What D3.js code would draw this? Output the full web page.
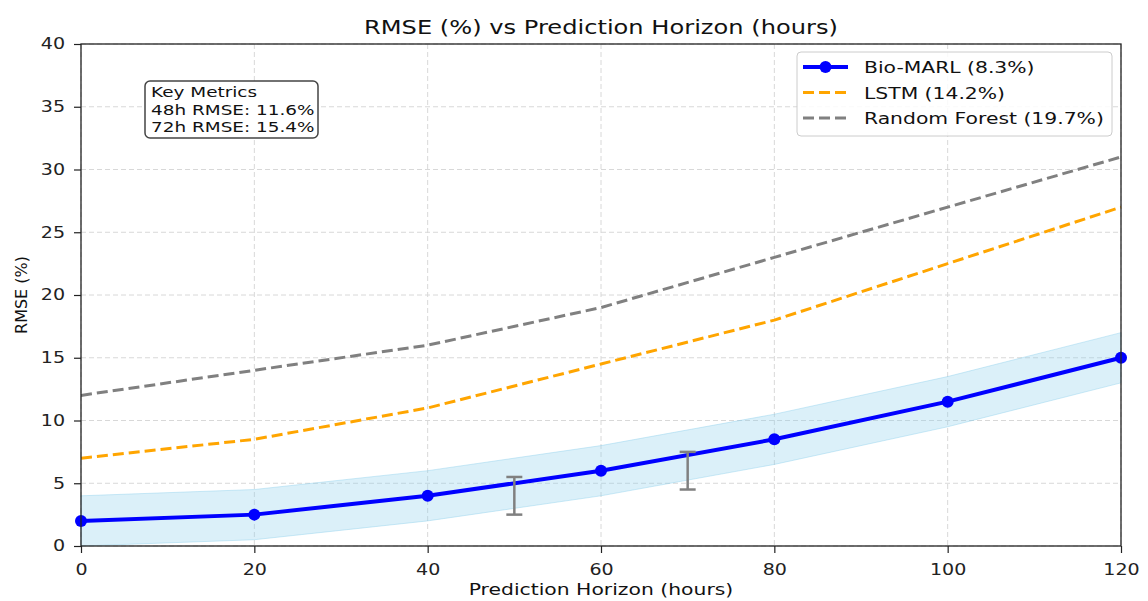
<!DOCTYPE html>
<html>
<head>
<meta charset="utf-8">
<script src="https://cdn.jsdelivr.net/npm/d3@7"></script>
<style>
  body { margin: 0; background: #fff; }
  svg { font-family: "DejaVu Sans", sans-serif; display: block; }
</style>
</head>
<body>
<svg id="chart" width="1148" height="601"></svg>
<script>
// data
const horizons = [0, 20, 40, 60, 80, 100, 120];
const bioMarl = [2, 2.5, 4, 6, 8.5, 11.5, 15];
const bioLower = [0, 0.5, 2, 4, 6.5, 9.5, 13];
const bioUpper = [4, 4.5, 6, 8, 10.5, 13.5, 17];
const lstm = [7, 8.5, 11, 14.5, 18, 22.5, 27];
const randomForest = [12, 14, 16, 19, 23, 27, 31];
const errX = [50, 70];
const errLow = [2.5, 4.5];
const errHigh = [5.5, 7.5];
const xTicks = [0, 20, 40, 60, 80, 100, 120];
const yTicks = [0, 5, 10, 15, 20, 25, 30, 35, 40];
const legendLabels = ['Bio-MARL (8.3%)', 'LSTM (14.2%)', 'Random Forest (19.7%)'];
const metricLines = ['Key Metrics', '48h RMSE: 11.6%', '72h RMSE: 15.4%'];

const margin = { top: 44, right: 27, bottom: 55, left: 81 };
const width = 1148, height = 601;
const innerWidth = width - margin.left - margin.right;
const innerHeight = height - margin.top - margin.bottom;
const sx = 1.27; // the picture's text is wider than it is tall

const svg = d3.select('#chart');
const g = svg.append('g').attr('transform', `translate(${margin.left},${margin.top})`);

// widen glyphs horizontally, keeping the text as text
function widen(sel) {
    sel.each(function() {
        const len = this.getComputedTextLength();
        d3.select(this).attr('textLength', len * sx).attr('lengthAdjust', 'spacingAndGlyphs');
    });
    return sel;
}
function addText(parent, x, y, txt, size, anchor) {
    return widen(parent.append('text')
        .attr('x', x).attr('y', y)
        .attr('text-anchor', anchor || 'start')
        .attr('font-size', size).attr('fill', '#111')
        .text(txt));
}

const xScale = d3.scaleLinear().domain([0, 120]).range([0, innerWidth]);
const yScale = d3.scaleLinear().domain([0, 40]).range([innerHeight, 0]);

// grid
g.append('g').selectAll('line').data(xTicks).join('line')
    .attr('x1', d => xScale(d)).attr('x2', d => xScale(d))
    .attr('y1', 0).attr('y2', innerHeight)
    .attr('stroke', '#d8d8d8').attr('stroke-width', 1).attr('stroke-dasharray', '5,3');
g.append('g').selectAll('line').data(yTicks).join('line')
    .attr('x1', 0).attr('x2', innerWidth)
    .attr('y1', d => yScale(d)).attr('y2', d => yScale(d))
    .attr('stroke', '#d8d8d8').attr('stroke-width', 1).attr('stroke-dasharray', '5,3');

// band
const band = d3.area()
    .x((d, i) => xScale(horizons[i]))
    .y0((d, i) => yScale(bioLower[i]))
    .y1((d, i) => yScale(bioUpper[i]));
g.append('path')
    .attr('d', band(horizons))
    .attr('fill', 'skyblue').attr('fill-opacity', 0.3)
    .attr('stroke', 'skyblue').attr('stroke-opacity', 0.4);

const line = d3.line()
    .x((d, i) => xScale(horizons[i]))
    .y(d => yScale(d));

g.append('path').attr('d', line(randomForest))
    .attr('fill', 'none').attr('stroke', 'gray').attr('stroke-width', 3)
    .attr('stroke-dasharray', '11,5');
g.append('path').attr('d', line(lstm))
    .attr('fill', 'none').attr('stroke', 'orange').attr('stroke-width', 3)
    .attr('stroke-dasharray', '11,5');
g.append('path').attr('d', line(bioMarl))
    .attr('fill', 'none').attr('stroke', 'blue').attr('stroke-width', 4);
g.append('g').selectAll('circle').data(bioMarl).join('circle')
    .attr('cx', (d, i) => xScale(horizons[i]))
    .attr('cy', d => yScale(d))
    .attr('r', 6).attr('fill', 'blue');

// error bars
errX.forEach((x, i) => {
    const eg = g.append('g').attr('stroke', 'gray').attr('stroke-width', 2.5);
    eg.append('line').attr('x1', xScale(x)).attr('x2', xScale(x))
        .attr('y1', yScale(errLow[i])).attr('y2', yScale(errHigh[i]));
    [errLow[i], errHigh[i]].forEach(v => {
        eg.append('line').attr('x1', xScale(x) - 8).attr('x2', xScale(x) + 8)
            .attr('y1', yScale(v)).attr('y2', yScale(v));
    });
});

// axes
const xAxis = g.append('g').attr('transform', `translate(0,${innerHeight})`)
    .call(d3.axisBottom(xScale).tickValues(xTicks).tickSize(7).tickPadding(11));
const yAxis = g.append('g')
    .call(d3.axisLeft(yScale).tickValues(yTicks).tickSize(7).tickPadding(9));
[xAxis, yAxis].forEach(a => {
    a.selectAll('.domain').remove();
    a.selectAll('line').attr('stroke', '#222').attr('stroke-width', 1.2);
    a.selectAll('text').attr('font-size', 15).attr('fill', '#222')
        .attr('font-family', '"DejaVu Sans", sans-serif');
    widen(a.selectAll('text'));
});
g.append('rect').attr('width', innerWidth).attr('height', innerHeight)
    .attr('fill', 'none').attr('stroke', '#222').attr('stroke-width', 1.3);

// labels
addText(svg, margin.left + innerWidth / 2, 34, 'RMSE (%) vs Prediction Horizon (hours)', 19, 'middle');
addText(svg, margin.left + innerWidth / 2, 595, 'Prediction Horizon (hours)', 16, 'middle');
svg.append('text')
    .attr('transform', `translate(27,${margin.top + innerHeight / 2}) rotate(-90)`)
    .attr('text-anchor', 'middle').attr('font-size', 16).attr('fill', '#111')
    .text('RMSE (%)');

// key metrics box
const km = svg.append('g').attr('transform', 'translate(145,81)');
km.append('rect').attr('width', 173).attr('height', 57).attr('rx', 5)
    .attr('fill', '#fff').attr('stroke', '#444').attr('stroke-width', 1.5);
metricLines.forEach((t, i) => addText(km, 6, 16 + i * 17.5, t, 14.5));

// legend
const lg = svg.append('g').attr('transform', 'translate(797,52)');
lg.append('rect').attr('width', 315).attr('height', 84).attr('rx', 4)
    .attr('fill', '#fff').attr('fill-opacity', 0.85).attr('stroke', '#ccc');
const legendStyles = [
    { color: 'blue', width: 4, dash: null, marker: true },
    { color: 'orange', width: 3, dash: '11,5', marker: false },
    { color: 'gray', width: 3, dash: '11,5', marker: false }
];
legendLabels.forEach((lab, i) => {
    const y = 15 + i * 25.5;
    const st = legendStyles[i];
    lg.append('line').attr('x1', 6).attr('x2', 51).attr('y1', y).attr('y2', y)
        .attr('stroke', st.color).attr('stroke-width', st.width)
        .attr('stroke-dasharray', st.dash);
    if (st.marker) lg.append('circle').attr('cx', 28.5).attr('cy', y).attr('r', 6).attr('fill', st.color);
    addText(lg, 67, y + 6, lab, 16);
});
</script>
</body>
</html>
